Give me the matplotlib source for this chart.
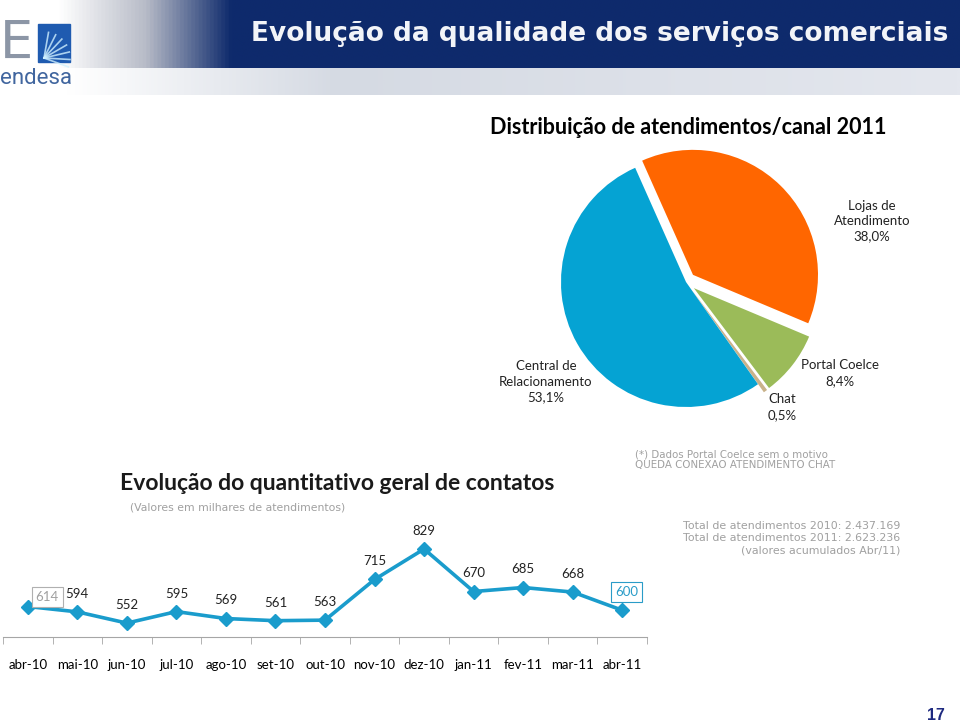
"""slide: evolucao da qualidade dos servicos comerciais"""
import numpy as np
import matplotlib
matplotlib.use("Agg")
import matplotlib.pyplot as plt
from matplotlib.patches import Rectangle
from matplotlib.colors import LinearSegmentedColormap

W, H = 960, 723

# pie data
canais = ["Lojas de\nAtendimento", "Portal Coelce", "Chat", "Central de\nRelacionamento"]
shares = [38.0, 8.4, 0.5, 53.1]
share_labels = ["38,0%", "8,4%", "0,5%", "53,1%"]
pie_colors = ["#FF6600", "#9BBB59", "#C9B28A", "#05A3D3"]

# monthly contacts (thousands)
meses = ["abr-10", "mai-10", "jun-10", "jul-10", "ago-10", "set-10", "out-10",
         "nov-10", "dez-10", "jan-11", "fev-11", "mar-11", "abr-11"]
contatos = [614, 594, 552, 595, 569, 561, 563, 715, 829, 670, 685, 668, 600]

FONT = "Lato"
GRAY = "#A0A0A0"
NAVY = "#0E2A6C"


def px(x, y):
    """pixel -> figure fraction"""
    return x / W, 1 - y / H


def box(x0, y0, x1, y1):
    return [x0 / W, 1 - y1 / H, (x1 - x0) / W, (y1 - y0) / H]


fig = plt.figure(figsize=(W / 100, H / 100), dpi=100)

# header bands
bg = fig.add_axes([0, 0, 1, 1], zorder=0)
bg.axis("off")
top_cmap = LinearSegmentedColormap.from_list(
    "top", [(0, "white"), (0.06, "white"), (0.15, "#B8BCC8"), (0.24, NAVY), (1, NAVY)])
low_cmap = LinearSegmentedColormap.from_list(
    "low", [(0, "white"), (0.07, "white"), (0.35, "#D5DAE3"), (1, "#E4E7EE")])
grad = np.linspace(0, 1, 512).reshape(1, -1)
bg.imshow(grad, cmap=top_cmap, extent=(0, W, 68, 0), aspect="auto")
bg.imshow(grad, cmap=low_cmap, extent=(0, W, 95, 68), aspect="auto")
bg.set_xlim(0, W)
bg.set_ylim(H, 0)

# logo
bg.text(0, 44, "E", fontsize=38, color="#8C96A6", fontfamily="DejaVu Sans",
        va="center", ha="left")
bg.add_patch(Rectangle((38, 24), 32, 38, color="#1F5BB0"))
for ang in np.linspace(100, 200, 7):
    r = np.deg2rad(ang)
    bg.plot([44, 44 + 26 * np.cos(r + np.pi)], [58, 58 + 26 * np.sin(r + np.pi)],
            color="#CFF0FF", lw=1.2, alpha=0.8)
bg.text(36, 79, "endesa", fontsize=16, color="#41669F", fontfamily="Roboto",
        ha="center", va="center")

fig.text(*px(948, 34), "Evolução da qualidade dos serviços comerciais", color="#F2F4F8",
         fontsize=19, fontweight="bold", fontfamily="DejaVu Sans", ha="right", va="center")

# pie
cx, cy, R = 686, 282, 125
S = 200
axp = fig.add_axes(box(cx - S, cy - S, cx + S, cy + S))
axp.pie(shares, colors=pie_colors, startangle=114, counterclock=False,
        explode=[0.08, 0.08, 0.08, 0.0], radius=1.0)
axp.set_xlim(-S / R, S / R)
axp.set_ylim(-S / R, S / R)
axp.set_aspect("equal")
axp.axis("off")

fig.text(*px(688, 127), "Distribuição de atendimentos/canal 2011", fontsize=15.5,
         fontweight="bold", fontfamily=FONT, ha="center", va="center")
label_pos = [(872, 221), (840, 373), (782, 407), (546, 382)]
for name, pct, (lx, ly) in zip(canais, share_labels, label_pos):
    fig.text(*px(lx, ly), name + "\n" + pct, fontsize=9.5, fontfamily=FONT,
             ha="center", va="center", linespacing=1.35, color="#222222")

# line chart
axl = fig.add_axes(box(3, 530, 647, 637))
x = np.arange(len(meses))
axl.plot(x, contatos, color="#1A9CCC", lw=2.6, marker="D", markersize=7.5,
         markeredgecolor="#1A9CCC", clip_on=False, zorder=3)
axl.set_xlim(-0.5, len(meses) - 0.5)
axl.set_ylim(500, 900)
for s in ["top", "left", "right"]:
    axl.spines[s].set_visible(False)
axl.spines["bottom"].set_color("#A6A6A6")
axl.set_yticks([])
axl.set_xticks(x)
axl.set_xticklabels(meses, fontsize=9.5, fontfamily=FONT)
axl.tick_params(axis="x", which="major", length=0, pad=16)
axl.set_xticks(np.arange(-0.5, len(meses)), minor=True)
axl.tick_params(axis="x", which="minor", length=5, color="#A6A6A6", direction="out")
axl.patch.set_alpha(0)

for i, v in enumerate(contatos):
    if i == 0:
        axl.annotate(str(v), (i, v), xytext=(14, 7), textcoords="offset points",
                     ha="center", va="center", fontsize=9.5, fontfamily=FONT, color=GRAY,
                     bbox=dict(boxstyle="square,pad=0.3", fc="white", ec="#B0B0B0", lw=0.8))
    elif i == len(contatos) - 1:
        axl.annotate(str(v), (i, v), xytext=(3, 13), textcoords="offset points",
                     ha="center", va="center", fontsize=9.5, fontfamily=FONT, color="#2A9CC8",
                     bbox=dict(boxstyle="square,pad=0.3", fc="white", ec="#2A9CC8", lw=0.8))
    else:
        axl.annotate(str(v), (i, v), xytext=(0, 13), textcoords="offset points",
                     ha="center", va="center", fontsize=9.5, fontfamily=FONT, color="#222222")

fig.text(*px(120, 484), "Evolução do quantitativo geral de contatos", fontsize=16.5,
         fontweight="bold", fontfamily=FONT, ha="left", va="center", color="#1A1A1A")
fig.text(*px(130, 507), "(Valores em milhares de atendimentos)", fontsize=7.8,
         fontfamily="DejaVu Sans", ha="left", va="center", color=GRAY)

# notes
fig.text(*px(635, 460), "(*) Dados Portal Coelce sem o motivo\nQUEDA CONEXAO ATENDIMENTO CHAT",
         fontsize=7.4, fontfamily="DejaVu Sans", ha="left", va="center", color=GRAY,
         linespacing=1.05)
fig.text(*px(900, 538), "Total de atendimentos 2010: 2.437.169\nTotal de atendimentos 2011: 2.623.236\n(valores acumulados Abr/11)",
         fontsize=7.9, fontfamily="DejaVu Sans", ha="right", va="center", color=GRAY,
         linespacing=1.3)

fig.text(*px(945, 716), "17", fontsize=11.5, fontweight="bold", fontfamily="Liberation Sans",
         ha="right", va="center", color="#1E2A80")

fig.savefig("out.png", dpi=100)
